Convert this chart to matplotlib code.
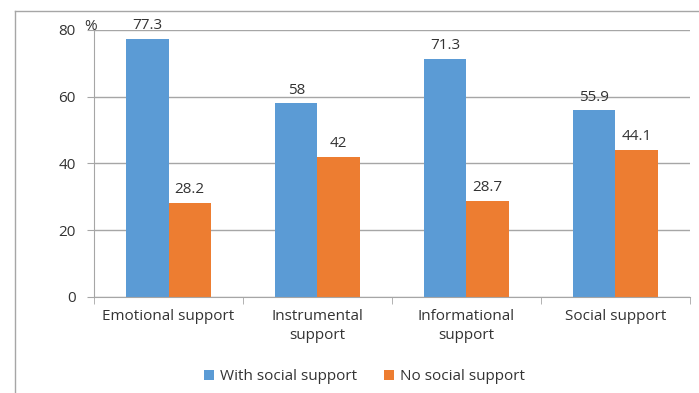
import matplotlib.pyplot as plt
import numpy as np
from matplotlib.lines import Line2D

# Data
categories = ['Emotional support', 'Instrumental\nsupport', 'Informational\nsupport', 'Social support']
with_support = [77.3, 58, 71.3, 55.9]
no_support = [28.2, 42, 28.7, 44.1]
with_labels = ['77.3', '58', '71.3', '55.9']
no_labels = ['28.2', '42', '28.7', '44.1']

blue = '#5B9BD5'
orange = '#ED7D31'
textc = '#333333'

plt.rcParams['font.family'] = ['Open Sans', 'DejaVu Sans']

fig = plt.figure(figsize=(6.99, 3.93), dpi=100)
ax = fig.add_axes([0.1345, 0.2443, 0.8525, 0.6794])

x = np.arange(len(categories))
w = 0.285
b1 = ax.bar(x - w / 2, with_support, w, color=blue, label='With social support')
b2 = ax.bar(x + w / 2, no_support, w, color=orange, label='No social support')

for bars, labs in ((b1, with_labels), (b2, no_labels)):
    for r, t in zip(bars, labs):
        ax.annotate(t, (r.get_x() + r.get_width() / 2, r.get_height()),
                    xytext=(0, 7), textcoords='offset points',
                    ha='center', va='baseline', fontsize=11, color=textc)

ax.set_xlim(-0.5, 3.5)
ax.set_ylim(0, 80)
ax.set_yticks([0, 20, 40, 60, 80])
ax.yaxis.grid(True, color='#A6A6A6', linewidth=1)
ax.set_axisbelow(True)
for s in ['top', 'right']:
    ax.spines[s].set_visible(False)
for s in ['left', 'bottom']:
    ax.spines[s].set_color('#A6A6A6')

ax.set_xticks(x)
ax.set_xticklabels(categories, fontsize=11, color=textc, linespacing=1.35)
ax.tick_params(axis='x', length=0, pad=9)
ax.set_xticks(np.arange(-0.5, 4, 1), minor=True)
ax.tick_params(axis='x', which='minor', length=5, color='#A6A6A6')
ax.tick_params(axis='y', length=5, color='#A6A6A6', labelsize=11, labelcolor=textc, pad=8)

ax.text(-0.017, 1.0, '%', transform=ax.transAxes, fontsize=11, color=textc, ha='left', va='baseline')

ax.legend(loc='upper center', bbox_to_anchor=(0.454, -0.22), ncol=2, frameon=False,
          fontsize=11, handlelength=0.65, handleheight=0.65, columnspacing=1.8, handletextpad=0.35,
          labelcolor=textc)

# outer frame lines (top and left)
fig.add_artist(Line2D([15 / 699, 1], [1 - 11 / 393] * 2, color='#A6A6A6', lw=1))
fig.add_artist(Line2D([15 / 699] * 2, [0, 1 - 11 / 393], color='#A6A6A6', lw=1))

fig.savefig('out.png', dpi=100)
